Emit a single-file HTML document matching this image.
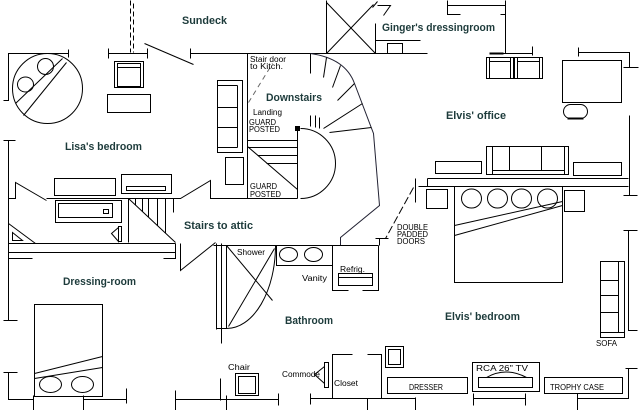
<!DOCTYPE html>
<html><head><meta charset="utf-8"><style>html,body{margin:0;padding:0;background:#fff}svg{display:block}</style></head><body>
<svg width="640" height="410" viewBox="0 0 640 410" xmlns="http://www.w3.org/2000/svg">
<rect width="640" height="410" fill="#fff"/>
<g transform="translate(0.5,0.5)" fill="none" stroke="#000" stroke-width="1">
<!-- top-left -->
<line x1="130" y1="0" x2="130" y2="52" stroke-dasharray="5,3"/>
<line x1="133" y1="3" x2="133" y2="52" stroke-dasharray="5,3"/>
<path d="M108,53H147M108,48V58M147,48V58"/>
<line x1="144" y1="43" x2="193" y2="64"/>
<path d="M190,48V58M190,53H427"/>
<rect x="114" y="61" width="29" height="26"/><rect x="117" y="63" width="23" height="23"/><line x1="117" y1="67" x2="140" y2="67"/>
<rect x="107" y="94" width="43" height="18"/>
<circle cx="47" cy="88" r="35"/><ellipse cx="25" cy="84" rx="8" ry="7.5"/><ellipse cx="45" cy="66" rx="8" ry="8"/>
<line x1="62" y1="58" x2="15" y2="103"/><line x1="66" y1="62" x2="23" y2="115"/>
<path d="M3,100H8V53H68M68,49V57"/>
<!-- Ginger -->
<path d="M326,0V53M326,2L375,53M326,53L373,4"/>
<path d="M372,7L377,1M377,5H390L383,15"/>
<path d="M375,23V53M375,40H420"/>
<rect x="387" y="43" width="15" height="10"/>
<path d="M447,0V14H460M447,5H505M505,0V53M500,14H505"/>
<line x1="489" y1="53" x2="503" y2="53" stroke-width="2"/>
<path d="M489,53H532M532,46V55"/>
<!-- office -->
<rect x="486" y="57" width="27" height="21"/><path d="M489,57V78M510,57V78M489,61H510"/>
<rect x="514" y="57" width="28" height="21"/><path d="M517,57V78M539,57V78M517,61H539"/>
<rect x="562" y="60" width="59" height="42"/>
<rect x="563" y="104" width="24" height="14" rx="7"/><line x1="567" y1="118" x2="583" y2="118" stroke-width="2"/>
<path d="M578,47V56M578,52H629V67M623,67H638"/>
<path d="M629,115V195M623,195H637M623,230H637M628,230V330H637"/>
<!-- Elvis bedroom -->
<rect x="435" y="161" width="46" height="12"/>
<rect x="573" y="162" width="48" height="13"/>
<rect x="486" y="146" width="82" height="28"/><path d="M492,146V174M564,146V174M509,146V170M541,146V170M492,170H564"/>
<path d="M427,178H628M418,186H628M427,178V186"/>
<rect x="426" y="189" width="21" height="19"/>
<rect x="454" y="186" width="108" height="96"/>
<ellipse cx="471" cy="198" rx="10" ry="9.5"/><ellipse cx="497" cy="198" rx="10" ry="9.5"/><ellipse cx="521" cy="198" rx="10" ry="9.5"/><ellipse cx="547" cy="198" rx="10" ry="9.5"/>
<line x1="454" y1="225" x2="562" y2="201"/><line x1="454" y1="235" x2="562" y2="205"/>
<rect x="564" y="190" width="20" height="21"/>
<rect x="600" y="261" width="24" height="76"/><path d="M618,261V332M600,280H618M600,295H618M600,312H618M600,332H624"/>
<path d="M625,368H637M628,368V398H577M577,393V410"/>
<rect x="544" y="377" width="78" height="16"/>
<rect x="472" y="362" width="67" height="29"/><rect x="478" y="377" width="54" height="10"/><path d="M486,377Q505,366 526,377"/>
<path d="M473,398H525M473,393V405M525,393V405"/>
<rect x="387" y="377" width="80" height="16"/>
<path d="M310,398H415M310,393V404M367,398V410M415,397V410"/>
<rect x="385" y="346" width="18" height="21"/><rect x="388" y="349" width="12" height="15"/>
<path d="M332,398V354H352M367,354H381V398"/>
<rect x="324" y="362" width="4" height="25"/><path d="M324,366L314,374L324,383"/>
<rect x="235" y="373" width="23" height="22"/><rect x="238" y="376" width="17" height="17"/>
<path d="M220,378V400M175,399H278M175,390V410M226,395V410M278,393V405"/>
<!-- dressing room -->
<path d="M3,372H17M8,372V399H33M33,395V410M83,395V410M83,399H126M126,388V403"/>
<rect x="34" y="304" width="68" height="92"/>
<line x1="34" y1="373" x2="102" y2="356"/><line x1="34" y1="378" x2="102" y2="367"/>
<ellipse cx="50" cy="384" rx="11" ry="8"/><ellipse cx="82" cy="384" rx="11" ry="8"/>
<path d="M3,140H15M8,140V320M3,320H17"/>
<!-- Lisa -->
<path d="M8,198H15V182L46,200M46,198H180L210,180V198H297"/>
<rect x="54" y="178" width="61" height="17"/><rect x="121" y="174" width="50" height="19"/><rect x="126" y="186" width="39" height="4"/>
<rect x="55" y="200" width="66" height="22"/><rect x="58" y="203" width="54" height="14"/><rect x="103" y="209" width="5" height="4"/>
<path d="M128,198V242M128,198L175,242M135,198V205M142,198V211M148,198V217M157,198V225M165,198V233M173,198V212"/>
<path d="M8,223L35,243"/><path d="M12,232L22,240H12Z"/><path d="M111,233L118,227V241Z"/><rect x="118" y="226" width="3" height="15"/>
<path d="M8,243H175M8,252H175M175,243V258H163M8,258H32"/>
<path d="M180,243V270L215,242"/>
<rect x="217" y="80" width="25" height="72"/><path d="M237,85V147M217,85H237M217,107H237M217,127H237M217,147H237"/>
<rect x="225" y="157" width="18" height="27"/>
<line x1="247" y1="53" x2="247" y2="198"/>
<!-- downstairs -->
<line x1="248" y1="102" x2="272" y2="63" stroke="#666" stroke-dasharray="5,4"/>
<path d="M310,53V73"/>
<path d="M310,53Q345,58 354,83L373,133L379,205L340,237V245" stroke="#223"/>
<path d="M326,57L323,77M340,65L332,87M354,83L337,100M362,103L323,128M371,127L329,132M310,115V126M315,115V127M319,117V128"/>
<path d="M300,128A35,35 0 0 1 300,198"/><line x1="297" y1="128" x2="297" y2="198"/>
<rect x="295" y="126" width="4" height="4" fill="#000"/>
<path d="M247,140H297M247,147H297M257,155H297M266,163H297M247,146L297,189"/>
<!-- bathroom -->
<path d="M213,245H378"/>
<path d="M216,243V329M221,243V343M226,245V328M216,328H226"/>
<path d="M226,245L272,300M274,248L228,326"/>
<path d="M275,245A49,83 0 0 1 226,328"/>
<rect x="276" y="245" width="56" height="20"/><ellipse cx="288" cy="254" rx="9" ry="7"/><ellipse cx="313" cy="254" rx="9" ry="7"/>
<path d="M378,245V290H362M348,290H332V245"/>
<rect x="338" y="273" width="34" height="12"/><line x1="338" y1="277" x2="372" y2="277"/>
<path d="M375,238H388M379,238V245"/>
<line x1="413" y1="187" x2="385" y2="238" stroke-dasharray="8,3"/><line x1="415" y1="178" x2="415" y2="202"/>
</g>
<g font-family="Liberation Sans, sans-serif" font-weight="bold" font-size="11" fill="#1d3b3b" lengthAdjust="spacingAndGlyphs">
<text x="182" y="24" textLength="45" lengthAdjust="spacingAndGlyphs">Sundeck</text>
<text x="382" y="31" textLength="113" lengthAdjust="spacingAndGlyphs">Ginger's dressingroom</text>
<text x="266" y="101" textLength="56" lengthAdjust="spacingAndGlyphs">Downstairs</text>
<text x="446" y="119" textLength="60" lengthAdjust="spacingAndGlyphs">Elvis' office</text>
<text x="65" y="150" textLength="77" lengthAdjust="spacingAndGlyphs">Lisa's bedroom</text>
<text x="184" y="229" textLength="69" lengthAdjust="spacingAndGlyphs">Stairs to attic</text>
<text x="63" y="285" textLength="73" lengthAdjust="spacingAndGlyphs">Dressing-room</text>
<text x="285" y="324" textLength="48" lengthAdjust="spacingAndGlyphs">Bathroom</text>
<text x="445" y="320" textLength="75" lengthAdjust="spacingAndGlyphs">Elvis' bedroom</text>
</g>
<g font-family="Liberation Sans, sans-serif" font-size="8" fill="#000">
<text x="250" y="62" textLength="36" lengthAdjust="spacingAndGlyphs">Stair door</text>
<text x="250" y="69" textLength="33" lengthAdjust="spacingAndGlyphs">to Kitch.</text>
<text x="253" y="115" textLength="29" lengthAdjust="spacingAndGlyphs">Landing</text>
<text x="249" y="125" textLength="27" lengthAdjust="spacingAndGlyphs">GUARD</text>
<text x="249" y="132" textLength="31" lengthAdjust="spacingAndGlyphs">POSTED</text>
<text x="250" y="189" textLength="27" lengthAdjust="spacingAndGlyphs">GUARD</text>
<text x="250" y="197" textLength="31" lengthAdjust="spacingAndGlyphs">POSTED</text>
<text x="397" y="230" textLength="31" lengthAdjust="spacingAndGlyphs">DOUBLE</text>
<text x="397" y="237" textLength="31" lengthAdjust="spacingAndGlyphs">PADDED</text>
<text x="397" y="244" textLength="28" lengthAdjust="spacingAndGlyphs">DOORS</text>
<text x="237" y="255" textLength="28" lengthAdjust="spacingAndGlyphs">Shower</text>
<text x="302" y="281" textLength="25" lengthAdjust="spacingAndGlyphs">Vanity</text>
<text x="340" y="272" textLength="25" lengthAdjust="spacingAndGlyphs">Refrig.</text>
<text x="228" y="370" textLength="22" lengthAdjust="spacingAndGlyphs">Chair</text>
<text x="282" y="377" textLength="38" lengthAdjust="spacingAndGlyphs">Commode</text>
<text x="334" y="386" textLength="24" lengthAdjust="spacingAndGlyphs">Closet</text>
<text x="409" y="390" textLength="34" lengthAdjust="spacingAndGlyphs">DRESSER</text>
<text x="476" y="371" textLength="52" lengthAdjust="spacingAndGlyphs">RCA 26" TV</text>
<text x="550" y="390" textLength="54" lengthAdjust="spacingAndGlyphs">TROPHY CASE</text>
<text x="596" y="346" textLength="21" lengthAdjust="spacingAndGlyphs">SOFA</text>
</g>
</svg>
</body></html>
